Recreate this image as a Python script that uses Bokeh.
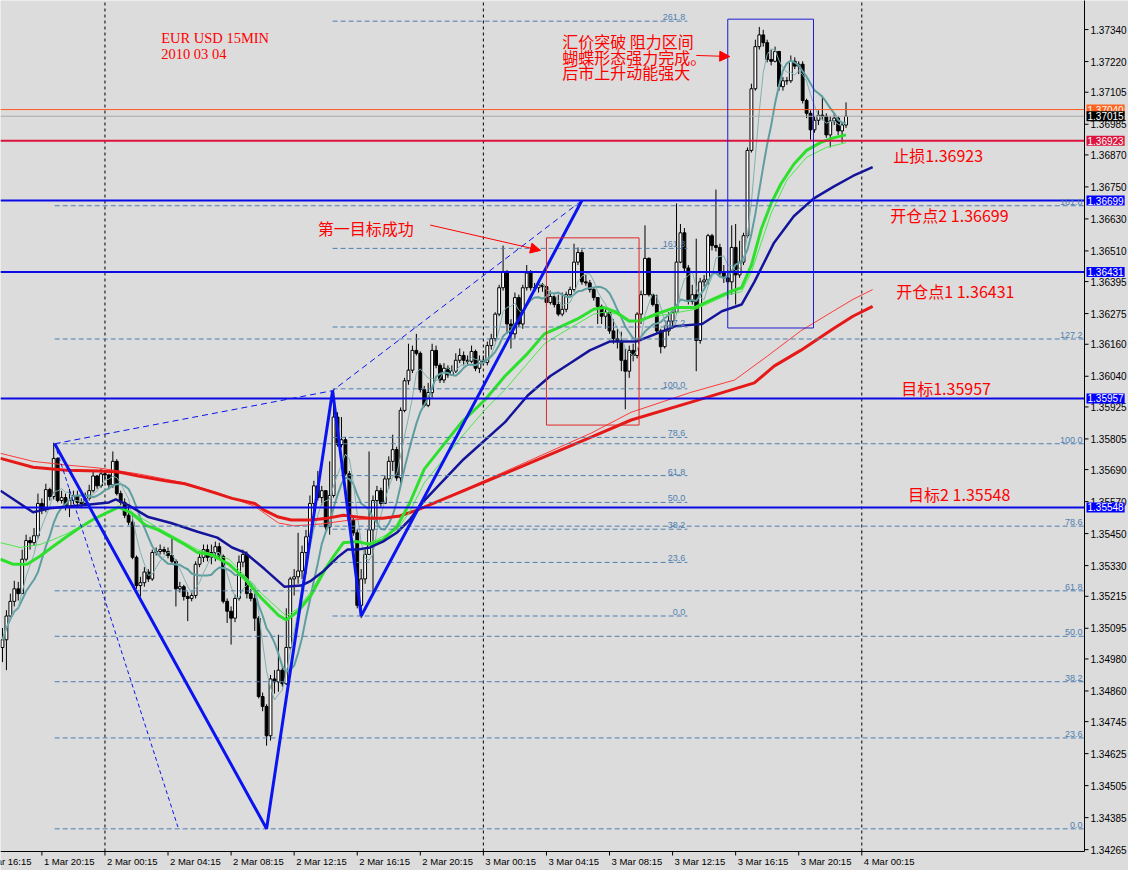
import pandas as pd
from bokeh.plotting import figure
from bokeh.models import Range1d, Label, Arrow, NormalHead, BoxAnnotation
from bokeh.embed import file_html
from bokeh.resources import INLINE

# ---------------- data ----------------
time_labels = ["1 Mar 16:15", "1 Mar 20:15", "2 Mar 00:15", "2 Mar 04:15", "2 Mar 08:15",
               "2 Mar 12:15", "2 Mar 16:15", "2 Mar 20:15", "3 Mar 00:15", "3 Mar 04:15",
               "3 Mar 08:15", "3 Mar 12:15", "3 Mar 16:15", "3 Mar 20:15", "4 Mar 00:15"]
time_ticks = [-6, 10, 26, 42, 58, 74, 90, 106, 122, 138, 154, 170, 186, 202, 218]
day_separators = [26, 122, 218]

price_ticks = [1.37340, 1.37220, 1.37105, 1.36985, 1.36870, 1.36750, 1.36630, 1.36510,
               1.36395, 1.36275, 1.36160, 1.36040, 1.35925, 1.35805, 1.35690, 1.35570,
               1.35450, 1.35330, 1.35215, 1.35095, 1.34980, 1.34860, 1.34745, 1.34625,
               1.34505, 1.34385, 1.34265]

first_open = 1.35023
close = [
 1.35052,1.35141,1.35196,1.35243,1.35225,1.35354,1.35424,1.35416,1.35442,1.35563,
 1.35541,1.35615,1.35589,1.35732,1.35574,1.35585,1.35549,1.35574,1.35593,1.35567,
 1.35563,1.35582,1.35611,1.35666,1.35629,1.35674,1.35670,1.35633,1.35721,1.35600,
 1.35567,1.35519,1.35493,1.35361,1.35255,1.35266,1.35306,1.35280,1.35379,1.35383,
 1.35390,1.35383,1.35368,1.35346,1.35243,1.35251,1.35214,1.35207,1.35218,1.35335,
 1.35361,1.35390,1.35361,1.35379,1.35401,1.35365,1.35196,1.35159,1.35133,1.35207,
 1.35343,1.35372,1.35225,1.35207,1.35133,1.34839,1.34802,1.34692,1.34905,1.34894,
 1.34938,1.34887,1.35023,1.35280,1.35288,1.35310,1.35379,1.35438,1.35563,1.35629,
 1.35585,1.35611,1.35475,1.35593,1.35887,1.35784,1.35802,1.35674,1.35501,1.35453,
 1.35181,1.35280,1.35372,1.35464,1.35574,1.35611,1.35563,1.35655,1.35721,1.35765,
 1.35659,1.35912,1.36023,1.36063,1.36137,1.36126,1.35990,1.35931,1.35979,1.36137,
 1.36081,1.36026,1.36070,1.36045,1.36059,1.36100,1.36118,1.36100,1.36096,1.36133,
 1.36070,1.36100,1.36092,1.36155,1.36181,1.36273,1.36372,1.36431,1.36236,1.36199,
 1.36335,1.36236,1.36372,1.36427,1.36372,1.36372,1.36383,1.36376,1.36317,1.36339,
 1.36309,1.36273,1.36291,1.36346,1.36365,1.36468,1.36504,1.36394,1.36390,1.36365,
 1.36335,1.36302,1.36265,1.36280,1.36210,1.36181,1.36170,1.36100,1.36059,1.36137,
 1.36118,1.36273,1.36346,1.36482,1.36346,1.36309,1.36210,1.36151,1.36210,1.36247,
 1.36280,1.36468,1.36578,1.36446,1.36321,1.36346,1.36174,1.36394,1.36401,1.36567,
 1.36530,1.36523,1.36427,1.36409,1.36394,1.36523,1.36420,1.36468,1.36567,1.36887,
 1.37118,1.37276,1.37320,1.37291,1.37228,1.37221,1.37258,1.37126,1.37148,1.37148,
 1.37221,1.37203,1.37210,1.37074,1.37026,1.36964,1.37000,1.37019,1.37015,1.36945,
 1.36997,1.37008,1.36960,1.36982,1.37015]
high = [
 1.35096,1.35163,1.35225,1.35273,1.35269,1.35390,1.35446,1.35438,1.35471,1.35600,
 1.35582,1.35637,1.35622,1.35791,1.35736,1.35611,1.35600,1.35618,1.35611,1.35611,
 1.35582,1.35604,1.35633,1.35685,1.35670,1.35692,1.35685,1.35674,1.35758,1.35729,
 1.35611,1.35582,1.35560,1.35530,1.35368,1.35288,1.35324,1.35317,1.35390,1.35398,
 1.35409,1.35401,1.35398,1.35438,1.35354,1.35269,1.35258,1.35232,1.35232,1.35346,
 1.35383,1.35409,1.35409,1.35409,1.35420,1.35416,1.35372,1.35207,1.35177,1.35221,
 1.35368,1.35390,1.35383,1.35243,1.35225,1.35141,1.34854,1.34810,1.34920,1.34938,
 1.35071,1.34949,1.35170,1.35288,1.35317,1.35453,1.35405,1.35464,1.35593,1.35648,
 1.35685,1.35629,1.35611,1.35721,1.35990,1.35905,1.35887,1.35813,1.35685,1.35519,
 1.35464,1.35317,1.35390,1.35758,1.35593,1.35629,1.35622,1.35666,1.35740,1.35821,
 1.35776,1.35923,1.36034,1.36162,1.36155,1.36199,1.36133,1.36004,1.36015,1.36162,
 1.36155,1.36089,1.36089,1.36081,1.36081,1.36126,1.36144,1.36133,1.36118,1.36155,
 1.36140,1.36118,1.36118,1.36170,1.36199,1.36280,1.36383,1.36530,1.36438,1.36254,
 1.36354,1.36346,1.36383,1.36457,1.36438,1.36390,1.36398,1.36390,1.36383,1.36361,
 1.36346,1.36346,1.36354,1.36357,1.36376,1.36537,1.36523,1.36515,1.36420,1.36401,
 1.36372,1.36335,1.36309,1.36295,1.36280,1.36254,1.36218,1.36207,1.36144,1.36155,
 1.36162,1.36280,1.36361,1.36606,1.36486,1.36346,1.36346,1.36218,1.36228,1.36280,
 1.36291,1.36688,1.36611,1.36596,1.36457,1.36383,1.36556,1.36409,1.36420,1.36574,
 1.36574,1.36740,1.36537,1.36457,1.36438,1.36606,1.36611,1.36548,1.36578,1.36898,
 1.37137,1.37302,1.37350,1.37339,1.37302,1.37265,1.37276,1.37258,1.37162,1.37162,
 1.37243,1.37236,1.37221,1.37221,1.37081,1.37037,1.37015,1.37037,1.37092,1.37026,
 1.37015,1.37026,1.37015,1.36993,1.37067]
low = [
 1.34968,1.34938,1.35126,1.35177,1.35199,1.35225,1.35346,1.35390,1.35405,1.35431,
 1.35523,1.35530,1.35574,1.35578,1.35567,1.35563,1.35537,1.35512,1.35560,1.35552,
 1.35545,1.35552,1.35574,1.35604,1.35618,1.35622,1.35648,1.35618,1.35622,1.35593,
 1.35556,1.35508,1.35482,1.35354,1.35243,1.35214,1.35251,1.35269,1.35273,1.35368,
 1.35372,1.35372,1.35357,1.35339,1.35177,1.35229,1.35199,1.35122,1.35196,1.35207,
 1.35324,1.35343,1.35346,1.35335,1.35346,1.35354,1.35188,1.35115,1.35034,1.35118,
 1.35199,1.35324,1.35207,1.35196,1.35085,1.34832,1.34784,1.34655,1.34674,1.34850,
 1.34857,1.34876,1.34883,1.35015,1.35218,1.35262,1.35280,1.35299,1.35420,1.35530,
 1.35574,1.35556,1.35464,1.35446,1.35585,1.35776,1.35773,1.35666,1.35493,1.35442,
 1.35170,1.35133,1.35262,1.35390,1.35218,1.35490,1.35552,1.35563,1.35618,1.35685,
 1.35648,1.35637,1.35905,1.36008,1.36052,1.36118,1.35979,1.35924,1.35924,1.35960,
 1.36070,1.36015,1.36015,1.36034,1.36041,1.36052,1.36089,1.36081,1.36081,1.36089,
 1.36059,1.36052,1.36081,1.36081,1.36140,1.36170,1.36265,1.36361,1.36199,1.36144,
 1.36181,1.36225,1.36218,1.36361,1.36361,1.36357,1.36354,1.36357,1.36302,1.36309,
 1.36298,1.36265,1.36265,1.36280,1.36335,1.36357,1.36457,1.36383,1.36379,1.36354,
 1.36324,1.36236,1.36236,1.36218,1.36199,1.36162,1.36144,1.36059,1.35916,1.36034,
 1.36096,1.36107,1.36236,1.36346,1.36339,1.36302,1.36199,1.36126,1.36144,1.36192,
 1.36218,1.36273,1.36464,1.36427,1.36309,1.36309,1.36059,1.36162,1.36376,1.36383,
 1.36512,1.36508,1.36412,1.36390,1.36328,1.36346,1.36309,1.36409,1.36457,1.36559,
 1.36879,1.37111,1.37265,1.37276,1.37217,1.37206,1.37217,1.37111,1.37111,1.37133,
 1.37140,1.37192,1.37173,1.37063,1.37008,1.36927,1.36953,1.36982,1.37000,1.36934,
 1.36898,1.36982,1.36945,1.36916,1.36971]

# moving averages (bar index, price)
red_thick_i = [-0.5,7.75,16.25,24.5,29.5,34.5,41.25,46.25,51.25,54.5,58.25,64,66.5,70,73.25,78.25,
               82.5,86.5,90,93.25,96.5,100.75,105,107,129.5,149.5,159.5,174.5,190.75,195.75,
               202.5,210.75,215.75,220.75]
red_thick_v = [1.35732,1.35699,1.35688,1.35685,1.35681,1.35666,1.35648,1.35637,1.35615,1.35600,
               1.35582,1.35563,1.35537,1.35512,1.35501,1.35501,1.35508,1.35519,1.35512,1.35508,
               1.35508,1.35516,1.35537,1.35549,1.35688,1.35813,1.35876,1.35942,1.36015,1.36078,
               1.36137,1.36218,1.36265,1.36302]
red_thin_i = [-0.5,7.75,16.25,24.5,34.5,46.25,54.5,64,70,74,80.75,88.25,95.75,100.75,105,107,
              129.5,149.5,159.5,174.5,185.75,194,202.5,210.75,215.75,220.75]
red_thin_v = [1.35751,1.35721,1.35707,1.35696,1.35674,1.35640,1.35604,1.35552,1.35490,1.35479,
              1.35486,1.35501,1.35508,1.35512,1.35537,1.35549,1.35696,1.35828,1.35905,1.35979,
              1.36026,1.36115,1.36210,1.36284,1.36328,1.36365]
blue_i = [-0.5,7.75,12,20.25,27,28.75,32,37,42.75,49.5,54.5,58.25,61.5,66.5,71.5,75.75,78.25,
          81.5,85,87.5,90,93.25,96.5,100,103.25,107,117,127.5,133.25,139,144,149,154,160.75,
          165.75,170.75,177.5,182.5,187.5,190.75,195.75,200.75,205.75,210.75,215.75,220.75]
blue_v = [1.35611,1.35530,1.35545,1.35556,1.35567,1.35578,1.35556,1.35512,1.35490,1.35457,
          1.35435,1.35398,1.35379,1.35317,1.35251,1.35255,1.35273,1.35310,1.35361,1.35390,
          1.35390,1.35398,1.35420,1.35453,1.35501,1.35574,1.35729,1.35868,1.35968,1.36041,
          1.36089,1.36137,1.36170,1.36170,1.36199,1.36228,1.36236,1.36284,1.36309,1.36394,
          1.36541,1.36640,1.36706,1.36750,1.36791,1.36824]
green_thick_i = [-0.5,2.75,6.25,9.5,12.75,16.25,19.5,22.75,26.25,29.5,32.75,36.25,39.5,42.75,
                 46.25,49.5,52.75,57.5,61.5,65.75,70,72,75,78.25,81.5,84,86.5,90,93.25,96.5,
                 100,103.25,107,116.5,122.5,127.5,133.25,137.5,141.5,145.75,150,152.5,155.75,
                 159,161.5,165.75,170.75,175.75,179,184,187.5,190,192.5,195,197.5,200.75,204,
                 207.5,210.75,214]
green_thick_v = [1.35354,1.35335,1.35335,1.35365,1.35401,1.35438,1.35471,1.35501,1.35527,1.35549,
                 1.35527,1.35482,1.35464,1.35438,1.35409,1.35379,1.35372,1.35335,1.35280,1.35207,
                 1.35144,1.35126,1.35159,1.35218,1.35306,1.35365,1.35416,1.35420,1.35409,1.35427,
                 1.35475,1.35563,1.35692,1.35868,1.35953,1.36041,1.36126,1.36199,1.36225,1.36254,
                 1.36291,1.36298,1.36280,1.36247,1.36247,1.36273,1.36298,1.36298,1.36321,1.36354,
                 1.36372,1.36457,1.36592,1.36688,1.36762,1.36835,1.36887,1.36916,1.36934,1.36945]
green_thin_i = [-0.5,4.5,9.5,12.75,16.25,22.75,29.5,32.75,39.5,49.5,57.5,65.75,72,75,78.25,81.5,
                86.5,93.25,100,103.25,107,116.5,122.5,127.5,133.25,137.5,141.5,150,152.5,155.75,
                159,165.75,175.75,184,187.5,190,195,199,204,209,214]
green_thin_v = [1.35416,1.35398,1.35409,1.35427,1.35449,1.35501,1.35549,1.35530,1.35471,1.35390,
                1.35354,1.35225,1.35141,1.35170,1.35232,1.35317,1.35420,1.35416,1.35464,1.35530,
                1.35640,1.35813,1.35916,1.35990,1.36089,1.36162,1.36199,1.36273,1.36280,1.36273,
                1.36243,1.36265,1.36291,1.36346,1.36357,1.36431,1.36651,1.36776,1.36861,1.36898,
                1.36916]

# horizontal price lines
ask_price = 1.37040
bid_price = 1.37015
stop_price = 1.36923
blue_levels = [1.36699, 1.36431, 1.35957, 1.35548]

# butterfly pattern points X, A, B, C, D (bar index, price)
pat_i = [13.25, 67.0, 83.75, 91.0, 147.0]
pat_v = [1.35787, 1.34343, 1.35986, 1.35141, 1.36699]
xd_end_i, xd_end_v = 44.5, 1.34350

# fibonacci objects
fib_levels = [0.0, 23.6, 38.2, 50.0, 61.8, 78.6, 100.0, 127.2, 161.8, 261.8]
fibA_lo, fibA_hi, fibA_i0, fibA_i1 = 1.35141, 1.35993, 83.75, 173.75
fibB_lo, fibB_hi, fibB_i0, fibB_i1 = 1.34343, 1.35787, 13.25, 274.5

# rectangles (left, right, bottom, top)
red_rect = (138.0, 161.5, 1.35857, 1.36559)
blue_rect = (184.0, 205.75, 1.36221, 1.37379)

# ---------------- geometry ----------------
W, H = 1128, 870
PLOT_W, PLOT_H = 1084, 851          # chart area inside the canvas
XP = (-0.5, 274.5)                  # bars shown in chart area
YP = (1.34258, 1.37449)             # prices shown in chart area
PXB = PLOT_W / (XP[1] - XP[0])      # px per bar
PPY = PLOT_H / (YP[1] - YP[0])      # px per price unit
def dx(px): return px / PXB
def dy(px): return px / PPY

BG = "#DCDCDC"
p = figure(width=W, height=H,
           x_range=Range1d(XP[0], XP[0] + dx(W)),
           y_range=Range1d(YP[1] - dy(H), YP[1]),
           x_axis_location=None, y_axis_location=None,
           output_backend="svg", toolbar_location=None,
           background_fill_color=BG, border_fill_color=BG,
           min_border_left=0, min_border_right=0, min_border_top=0, min_border_bottom=0)
p.outline_line_color = None
p.grid.visible = False

# day separators
for d in day_separators:
    p.segment([d], [YP[0]], [d], [YP[1]], line_color="black", line_dash="3 3", line_width=1)

# candles
n = len(close)
opens = [first_open] + close[:-1]
xs = list(range(n))
hi = [max(h, o, c) for h, o, c in zip(high, opens, close)]
lo = [min(l, o, c) for l, o, c in zip(low, opens, close)]
p.segment(xs, hi, xs, lo, line_color="black", line_width=1)
bull = [i for i in xs if close[i] >= opens[i]]
bear = [i for i in xs if close[i] < opens[i]]
p.vbar(x=bull, width=0.72, top=[close[i] for i in bull], bottom=[opens[i] for i in bull],
       fill_color="white", line_color="black", line_width=1)
p.vbar(x=bear, width=0.72, top=[opens[i] for i in bear], bottom=[close[i] for i in bear],
       fill_color="black", line_color="black", line_width=1)

# moving averages
cs = pd.Series(close)
p.line(xs, cs.rolling(10, min_periods=1).mean().tolist(), line_color="#5F9EA0", line_width=2)
p.line(xs, cs.rolling(5, min_periods=1).mean().tolist(), line_color="#7FB0B0", line_width=1)
p.line(red_thin_i, red_thin_v, line_color="#FF3A3A", line_width=1)
p.line(red_thick_i, red_thick_v, line_color="#E61919", line_width=3)
p.line(green_thin_i, green_thin_v, line_color="#4CE84C", line_width=1)
p.line(green_thick_i, green_thick_v, line_color="#2EE02E", line_width=3)
p.line(blue_i, blue_v, line_color="#14149B", line_width=2.5)

# fibonacci
FIB = "#4F7FB0"
def draw_fib(lo_p, hi_p, i0, i1, levels):
    for lv in levels:
        yv = lo_p + lv / 100.0 * (hi_p - lo_p)
        if not (YP[0] < yv < YP[1]):
            continue
        p.segment([i0], [yv], [i1], [yv], line_color=FIB, line_width=1, line_dash="5 3")
        p.add_layout(Label(x=i1 - dx(2), y=yv, text="%.1f" % lv, text_align="right",
                           text_baseline="bottom", y_offset=1, text_font="Liberation Sans",
                           text_font_size="9px", text_color=FIB))
draw_fib(fibA_lo, fibA_hi, fibA_i0, fibA_i1, fib_levels)
draw_fib(fibB_lo, fibB_hi, fibB_i0, fibB_i1, fib_levels[:-1])

# horizontal price levels (only across the chart area)
def hline(price, color, width):
    p.segment([XP[0]], [price], [XP[1]], [price], line_color=color, line_width=width)
hline(bid_price, "#A8A8A8", 1)
hline(ask_price, "#FF5A1E", 1)
hline(stop_price, "#DC143C", 2)
for lv in blue_levels:
    hline(lv, "#0A0AE6", 2)

# butterfly pattern
PB = "#0A14F0"
p.line(pat_i, pat_v, line_color=PB, line_width=3)
p.line([pat_i[0], pat_i[2], pat_i[4]], [pat_v[0], pat_v[2], pat_v[4]],
       line_color=PB, line_width=1, line_dash="6 4")
p.line([pat_i[0], xd_end_i], [pat_v[0], xd_end_v], line_color=PB, line_width=1, line_dash="4 3")

# rectangles
p.add_layout(BoxAnnotation(left=red_rect[0], right=red_rect[1], bottom=red_rect[2], top=red_rect[3],
                           fill_color=None, fill_alpha=0, line_color="#E02828", line_alpha=1,
                           line_width=1))
p.add_layout(BoxAnnotation(left=blue_rect[0], right=blue_rect[1], bottom=blue_rect[2], top=blue_rect[3],
                           fill_color=None, fill_alpha=0, line_color="#1E1ED2", line_alpha=1,
                           line_width=1))

# texts
RED = "#FF0000"
CJK = "Noto Sans CJK SC"
def txt(x, y, s, font=CJK, size="16px", baseline="top", color=RED, align="left"):
    p.add_layout(Label(x=x, y=y, text=s, text_font=font, text_font_size=size,
                       text_color=color, text_baseline=baseline, text_align=align))

txt(40.25, 1.37339, "EUR USD 15MIN", font="Liberation Serif", size="14.5px")
txt(40.25, 1.37278, "2010 03 04", font="Liberation Serif", size="14.5px")
txt(142.0, 1.37342, "汇价突破 阻力区间")
txt(142.0, 1.37284, "蝴蝶形态强力完成。")
txt(142.0, 1.37225, "后市上升动能强大")
txt(80.0, 1.36640, "第一目标成功")
txt(226.0, 1.36868, "止损1.36923", baseline="middle")
txt(225.25, 1.36644, "开仓点2 1.36699", baseline="middle")
txt(226.75, 1.36361, "开仓点1 1.36431", baseline="middle")
txt(228.0, 1.35997, "目标1.35957", baseline="middle")
txt(229.75, 1.35600, "目标2 1.35548", baseline="middle")

p.add_layout(Arrow(end=NormalHead(size=10, fill_color=RED, line_color=RED),
                   x_start=176.0, y_start=1.37243, x_end=184.5, y_end=1.37239,
                   line_color=RED, line_width=1))
p.add_layout(Arrow(end=NormalHead(size=10, fill_color=RED, line_color=RED),
                   x_start=108.5, y_start=1.36607, x_end=136.5, y_end=1.36512,
                   line_color=RED, line_width=1))

# ---------------- price axis (right) ----------------
AX = XP[1]
p.segment([AX], [YP[0]], [AX], [YP[1] + dy(2)], line_color="black", line_width=1)
p.segment([AX] * len(price_ticks), price_ticks, [AX + dx(4)] * len(price_ticks), price_ticks,
          line_color="black", line_width=1)
for t in price_ticks:
    p.add_layout(Label(x=AX + dx(6), y=t, text="%.5f" % t, text_align="left",
                       text_baseline="middle", text_font="Liberation Sans",
                       text_font_size="10px", text_color="black"))

def tag(price, bg):
    p.add_layout(Label(x=AX + dx(2), y=price, text="%.5f" % price, text_align="left",
                       text_baseline="middle", text_font="Liberation Sans", text_font_size="10px",
                       text_color="white", background_fill_color=bg, padding=1))
tag(ask_price, "#FF6420")
tag(bid_price, "black")
tag(stop_price, "#DC143C")
for lv in blue_levels:
    tag(lv, "#0000FF")

# ---------------- time axis (bottom) ----------------
p.segment([XP[0]], [YP[0]], [AX], [YP[0]], line_color="black", line_width=1)
p.segment(time_ticks, [YP[0]] * len(time_ticks), time_ticks, [YP[0] - dy(4)] * len(time_ticks),
          line_color="black", line_width=1)
for t, s in zip(time_ticks, time_labels):
    p.add_layout(Label(x=t + dx(2), y=YP[0] - dy(4), text=s, text_align="left",
                       text_baseline="top", text_font="Liberation Sans", text_font_size="9.5px",
                       text_color="black"))

open("out.html", "w").write(file_html(p, INLINE))
